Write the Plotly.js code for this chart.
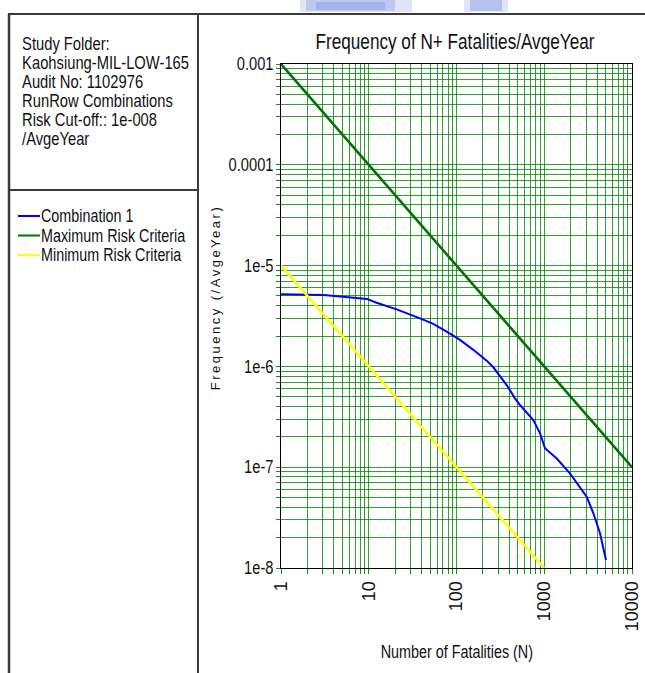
<!DOCTYPE html>
<html><head><meta charset="utf-8">
<script src="https://cdn.plot.ly/plotly-3.0.1.min.js"></script>
<style>html,body{margin:0;padding:0;background:#fff;}</style>
</head><body>
<div id="chart" style="width:645px;height:673px;"></div>
<script>
// ---- data ----
const comboN = [1, 3.04, 5.1, 9.5, 12.3, 20.8, 38.4, 54.4, 77.3, 109.6, 155.6, 220.8, 263, 373, 464, 529, 751, 895, 1020, 1387, 1963, 3045, 3630, 4317, 5057];
const comboF = [5.19e-6, 5.1e-6, 4.92e-6, 4.67e-6, 4.28e-6, 3.68e-6, 3.0e-6, 2.64e-6, 2.21e-6, 1.83e-6, 1.46e-6, 1.14e-6, 9.8e-7, 6.53e-7, 4.82e-7, 4.14e-7, 2.94e-7, 2.17e-7, 1.54e-7, 1.22e-7, 8.7e-8, 5.09e-8, 3.49e-8, 2.21e-8, 1.2e-8];
const maxN = [1, 10000];
const maxF = [1e-3, 1e-7];
const minN = [1, 1000];
const minF = [1e-5, 1e-8];
const xDecades = [1, 10, 100, 1000, 10000];
const xLabels = ['1', '10', '100', '1000', '10000'];
const yDecades = [1e-8, 1e-7, 1e-6, 1e-5, 1e-4, 1e-3];
const yLabels = ['1e-8', '1e-7', '1e-6', '1e-5', '0.0001', '0.001'];
const seriesNames = ['Combination 1', 'Maximum Risk Criteria', 'Minimum Risk Criteria'];
const seriesColors = ['#0000ff', '#007400', '#ffff00'];
const infoLines = ['Study Folder:', 'Kaohsiung-MIL-LOW-165', 'Audit No: 1102976', 'RunRow Combinations', 'Risk Cut-off:: 1e-008', '/AvgeYear'];
const chartTitle = 'Frequency of N+ Fatalities/AvgeYear';
const xTitle = 'Number of Fatalities (N)';
const yTitle = 'Frequency (/AvgeYear)';

// ---- layout helpers ----
const W = 645, H = 673;
const L = 281, R = 632, T = 64, B = 568;
const px = x => (x - L) / (R - L);
const py = y => (B - y) / (B - T);
const SANS = '"Liberation Sans", Arial, sans-serif';

function gridTicks(decades, labels) {
  const vals = [], text = [];
  decades.forEach((d, i) => {
    vals.push(d); text.push(labels[i]);
    if (i < decades.length - 1) {
      for (let k = 2; k <= 9; k++) { vals.push(d * k); text.push(''); }
    }
  });
  return {vals, text};
}
const xt = gridTicks(xDecades, xLabels);
const yt = gridTicks(yDecades, yLabels);

const traces = [
  {x: comboN, y: comboF, name: seriesNames[0], mode: 'lines', line: {color: seriesColors[0], width: 2}},
  {x: maxN, y: maxF, name: seriesNames[1], mode: 'lines', line: {color: seriesColors[1], width: 2.6}},
  {x: minN, y: minF, name: seriesNames[2], mode: 'lines', line: {color: seriesColors[2], width: 2.5}}
];

const frame = '#3a3a3a';
const wm = (x0, x1, y0, y1, a) => ({type: 'rect', xref: 'paper', yref: 'paper', x0: px(x0), x1: px(x1), y0: py(y1), y1: py(y0), fillcolor: `rgba(130,150,225,${a})`, line: {width: 0}, layer: 'below'});
const shapes = [
  // watermark remnants at the top
  wm(300, 412, 0, 12, 0.25), wm(306, 395, 0, 11, 0.35), wm(316, 385, 2, 10, 0.4),
  wm(464, 508, 0, 12, 0.25), wm(470, 502, 0, 11, 0.45),
  // frame
  {type: 'line', xref: 'paper', yref: 'paper', x0: px(8), x1: px(645), y0: py(14), y1: py(14), line: {color: frame, width: 2}},
  {type: 'line', xref: 'paper', yref: 'paper', x0: px(9), x1: px(9), y0: py(14), y1: py(673), line: {color: frame, width: 2.5}},
  {type: 'line', xref: 'paper', yref: 'paper', x0: px(198), x1: px(198), y0: py(14), y1: py(673), line: {color: frame, width: 2}},
  {type: 'line', xref: 'paper', yref: 'paper', x0: px(9), x1: px(198), y0: py(190), y1: py(190), line: {color: frame, width: 2}}
];
// legend swatches
const legY = [216, 235.5, 255];
seriesNames.forEach((n, i) => {
  shapes.push({type: 'line', xref: 'paper', yref: 'paper', x0: px(18), x1: px(40), y0: py(legY[i]), y1: py(legY[i]), line: {color: seriesColors[i], width: 2}});
});

const annotations = [];
const infoY = [44, 63, 82, 101, 120, 139];
infoLines.forEach((t, i) => {
  annotations.push({text: t, xref: 'paper', yref: 'paper', x: px(20), y: py(infoY[i]), xanchor: 'left', yanchor: 'middle', showarrow: false, font: {family: SANS, size: 18, color: '#111'}});
});
seriesNames.forEach((t, i) => {
  annotations.push({text: t, xref: 'paper', yref: 'paper', x: px(39), y: py(legY[i]), xanchor: 'left', yanchor: 'middle', showarrow: false, font: {family: SANS, size: 17.5, color: '#111'}});
});
annotations.push({text: yTitle, xref: 'paper', yref: 'paper', x: px(215), y: py(298), xanchor: 'center', yanchor: 'middle', textangle: -90, showarrow: false, font: {family: SANS, size: 13, color: '#111'}});
annotations.push({text: xTitle, xref: 'paper', yref: 'paper', x: px(457), y: py(652), xanchor: 'center', yanchor: 'middle', showarrow: false, font: {family: SANS, size: 17.5, color: '#111'}});

const layout = {
  width: W, height: H,
  margin: {l: L, r: W - R, t: T, b: H - B, pad: 0},
  paper_bgcolor: '#fff', plot_bgcolor: '#fff',
  showlegend: false,
  title: {text: chartTitle, x: 455 / W, xanchor: 'center', y: 1 - 41 / H, yanchor: 'middle', font: {family: SANS, size: 22, color: '#111'}},
  xaxis: {
    type: 'log', range: [0, 4], tickmode: 'array', tickvals: xt.vals, ticktext: xt.text,
    tickangle: -90, ticks: 'outside', ticklen: 5, tickcolor: '#1a8c1a',
    showgrid: true, gridcolor: 'rgba(0,128,0,0.78)', gridwidth: 1,
    showline: true, linecolor: '#000', linewidth: 1, mirror: true, zeroline: false,
    tickfont: {family: SANS, size: 18, color: '#111'}, fixedrange: true
  },
  yaxis: {
    type: 'log', range: [-8, -3], tickmode: 'array', tickvals: yt.vals, ticktext: yt.text,
    ticks: 'outside', ticklen: 4, tickcolor: '#1a8c1a',
    showgrid: true, gridcolor: 'rgba(0,128,0,0.78)', gridwidth: 1,
    showline: true, linecolor: '#000', linewidth: 1, mirror: true, zeroline: false,
    tickfont: {family: SANS, size: 17.5, color: '#111'}, fixedrange: true
  },
  shapes: shapes,
  annotations: annotations
};

// narrow the text horizontally (the original uses an Arial Narrow style face)
function condense(el, sx, mode, dx) {
  const bb = el.getBBox();
  const ax = mode === 'left' ? bb.x : mode === 'right' ? bb.x + bb.width : bb.x + bb.width / 2;
  const t = el.getAttribute('transform') || '';
  el.setAttribute('transform', `${t} translate(${ax + (dx || 0)},0) scale(${sx},1) translate(${-ax},0)`);
}

Plotly.newPlot('chart', traces, layout, {displayModeBar: false, staticPlot: true}).then(gd => {
  gd.querySelectorAll('.annotation-text').forEach(el => {
    const s = el.textContent;
    if (s === yTitle) el.style.letterSpacing = '2.5px';
    else if (s === xTitle) condense(el, 0.82, 'center');
    else condense(el, 0.82, 'left');
  });
  gd.querySelectorAll('.gtitle').forEach(el => condense(el, 0.78, 'center'));
  gd.querySelectorAll('.ytick text').forEach(el => condense(el, 0.84, 'right', 1));
});
</script>
</body></html>
